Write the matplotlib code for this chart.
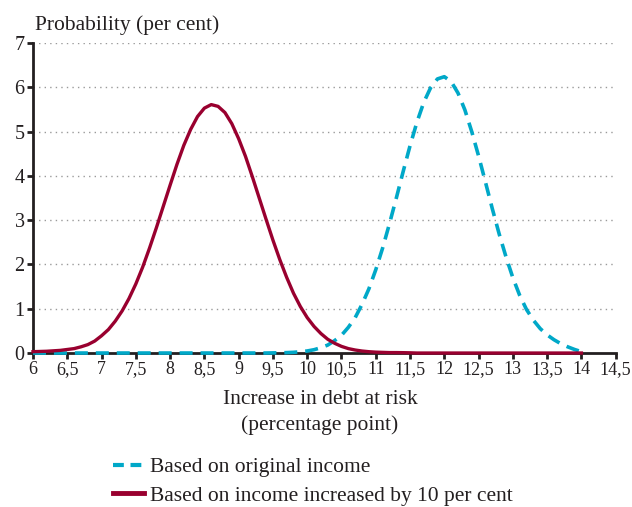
import matplotlib
matplotlib.use("Agg")
import matplotlib.pyplot as plt

plt.rcParams['font.family'] = ['Liberation Serif', 'DejaVu Serif']

# x grid of the curves (percentage point), read every 0.1
x_vals = [round(6 + i * 0.1, 1) for i in range(81)]

# based on original income (cyan dashed)
original = [0.0, 0.0, 0.0, 0.0, 0.0, 0.0, 0.0, 0.0, 0.0, 0.0,
            0.0, 0.0, 0.0, 0.0, 0.0, 0.0, 0.0, 0.0, 0.0, 0.0,
            0.0, 0.0, 0.0, 0.0, 0.0, 0.0, 0.0, 0.0, 0.0, 0.0,
            0.0, 0.0, 0.0, 0.0, 0.0, 0.003, 0.005, 0.009, 0.016, 0.028,
            0.046, 0.075, 0.12, 0.18, 0.28, 0.40, 0.58, 0.80, 1.10, 1.45,
            1.88, 2.37, 2.92, 3.50, 4.10, 4.68, 5.21, 5.66, 5.99, 6.19,
            6.24, 6.13, 5.87, 5.49, 5.00, 4.45, 3.86, 3.26, 2.69, 2.17,
            1.70, 1.30, 0.98, 0.74, 0.55, 0.41, 0.30, 0.21, 0.14, 0.08,
            0.03]

# based on income increased by 10 per cent (dark red)
increased = [0.03, 0.035, 0.04, 0.05, 0.06, 0.08, 0.10, 0.14, 0.19, 0.27,
             0.39, 0.53, 0.72, 0.95, 1.23, 1.56, 1.94, 2.37, 2.83, 3.31,
             3.79, 4.26, 4.69, 5.05, 5.34, 5.53, 5.61, 5.57, 5.43, 5.18,
             4.84, 4.44, 3.98, 3.50, 3.02, 2.55, 2.11, 1.71, 1.35, 1.05,
             0.80, 0.60, 0.44, 0.31, 0.22, 0.15, 0.10, 0.068, 0.045, 0.03,
             0.02, 0.015, 0.01, 0.01, 0.008, 0.005, 0.0, 0.0, 0.0, 0.0,
             0.0, 0.0, 0.0, 0.0, 0.0, 0.0, 0.0, 0.0, 0.0, 0.0,
             0.0, 0.0, 0.0, 0.0, 0.0, 0.0, 0.0, 0.0, 0.0, 0.0,
             0.0]

x_ticks = [6, 6.5, 7, 7.5, 8, 8.5, 9, 9.5, 10, 10.5, 11, 11.5, 12, 12.5, 13, 13.5, 14, 14.5]
x_labels = ['6', '6,5', '7', '7,5', '8', '8,5', '9', '9,5', '10', '10,5', '11',
            '11,5', '12', '12,5', '13', '13,5', '14', '14,5']
y_ticks = [0, 1, 2, 3, 4, 5, 6, 7]

txt = '#231f20'
cyan = '#00a8c8'
red = '#99002f'

fig = plt.figure(figsize=(6.32, 5.07), dpi=100)
ax = fig.add_axes([0.0522, 0.3037, 0.922, 0.6114])

for y in y_ticks[1:]:
  ax.axhline(y, color='#9a9a9a', linestyle=(0, (1, 3)), linewidth=1, zorder=1)

l1, = ax.plot(x_vals, original, color=cyan, linewidth=2.6, linestyle=(0, (3.6, 2.2)),
              clip_on=False, zorder=3, label='Based on original income')
l2, = ax.plot(x_vals, increased, color=red, linewidth=2.4, clip_on=False, zorder=4,
              label='Based on income increased by 10 per cent')

ax.set_xlim(6, 14.5)
ax.set_ylim(0, 7)
ax.set_xticks(x_ticks)
ax.set_xticklabels(x_labels)
ax.set_yticks(y_ticks)

for s in ['top', 'right']:
  ax.spines[s].set_visible(False)
for s in ['left', 'bottom']:
  ax.spines[s].set_color(txt)
  ax.spines[s].set_linewidth(2)

ax.tick_params(axis='both', colors=txt, labelsize=14.5, width=2, length=4, direction='out')
ax.tick_params(axis='x', pad=2, labelsize=13)
ax.tick_params(axis='y', pad=2)

fig.text(35 / 632, 1 - 30 / 507, 'Probability (per cent)', fontsize=15.5, color=txt,
         ha='left', va='baseline')
fig.text(320 / 632, 1 - 399 / 507, 'Increase in debt at risk', fontsize=15.5, color=txt,
         ha='center', va='center')
fig.text(320 / 632, 1 - 425 / 507, '(percentage point)', fontsize=15.5, color=txt,
         ha='center', va='center')

h1 = plt.Line2D([], [], color=cyan, linewidth=3, linestyle=(0, (2.6, 1.6)))
h2 = plt.Line2D([], [], color=red, linewidth=3.5)
fig.legend([h1, h2], [l1.get_label(), l2.get_label()], loc='upper left',
           bbox_to_anchor=(113 / 632, 1 - 457 / 507), frameon=False, fontsize=15.5,
           borderpad=0, borderaxespad=0, handlelength=1.45, handletextpad=0.25,
           labelspacing=0.4, labelcolor=txt)

plt.savefig('out.png', dpi=100)
plt.close()
